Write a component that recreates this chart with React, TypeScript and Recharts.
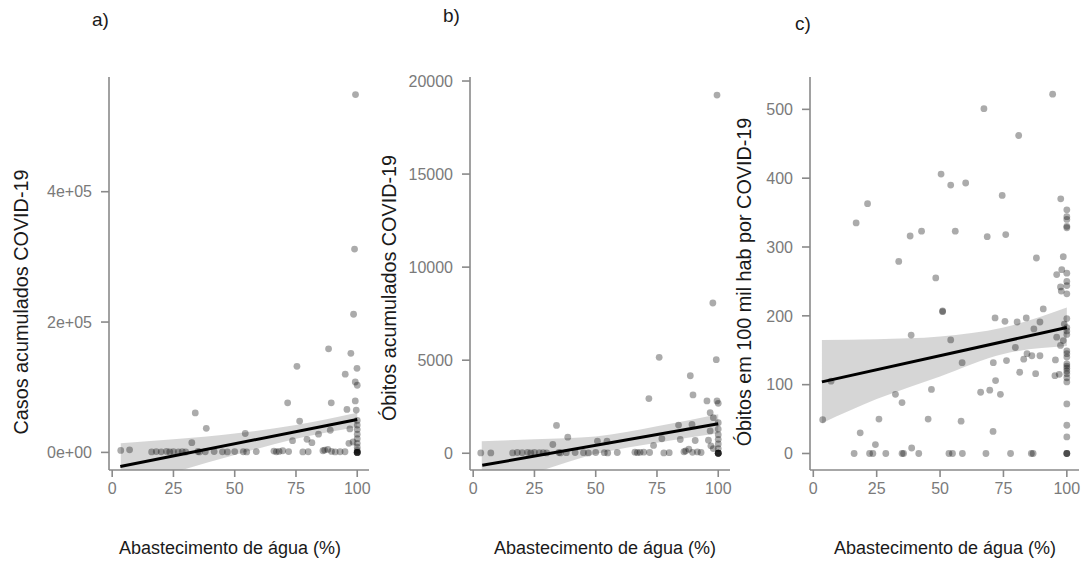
import { ComposedChart, Scatter, Area, Line, XAxis, YAxis } from 'recharts';

const FONT = '"Liberation Sans", Arial, sans-serif';

const xTicks = [0, 25, 50, 75, 100];
const xDomain = [-1.3, 104.8];
const xTitle = 'Abastecimento de água (%)';

// a) casos acumulados
const yTicksA = [0, 200000, 400000];
const yLabelsA = ['0e+00', '2e+05', '4e+05'];
const pointsA: [number, number][] = [
  [99.3, 549000], [98.9, 312000], [98.5, 212000], [88.3, 159000], [97.4, 152000], [99.9, 129000],
  [75.4, 132000], [95.1, 120000], [99.2, 108000], [100, 103000], [71.6, 76000], [89.4, 76000],
  [99.2, 79000], [99.6, 65000], [95.8, 66000], [33.9, 60500], [38.4, 37000], [76.5, 48000],
  [54.3, 29000], [32.5, 15000], [73.6, 18000], [79.5, 20000], [81.5, 15000], [84.2, 28000],
  [89, 34000], [97, 36000], [96.6, 14000], [98.3, 16000], [95, 1000], [100, 49000], [100, 42000],
  [100, 35000], [100, 28000], [100, 21000], [100, 14000], [100, 8000], [100, 3000], [3.5, 3000],
  [7.1, 4000], [16.1, 800], [18, 1200], [20, 900], [22.2, 1500], [23.5, 700], [25, 1300], [27, 900],
  [28.6, 1100], [30, 600], [35, 1400], [35.6, 800], [38, 1000], [41.6, 1200], [45, 900], [47, 700],
  [50, 1300], [53.5, 1000], [54.9, 800], [58.8, 1200], [66, 2000], [67, 900], [68.1, 1500],
  [69.6, 2500], [72, 1200], [77.8, 800], [80, 1000], [86, 2500], [86.7, 3500], [88, 4500],
  [89.5, 1500], [91, 800], [93, 1000], [100, 0], [100, 0], [100, 0], [100, 0], [100, 0],
];
const bandXA = [3.5, 25, 50, 75, 100];
const bandLoA = [-57000, -31000, -4000, 21000, 39000];
const bandHiA = [14000, 20000, 29000, 42000, 61000];
const fitA: [number, number][] = [[3.3, -21500], [100, 50500]];

// b) óbitos acumulados
const yTicksB = [0, 5000, 10000, 15000, 20000];
const yLabelsB = ['0', '5000', '10000', '15000', '20000'];
const pointsB: [number, number][] = [
  [99.5, 19245], [97.8, 8073], [75.9, 5154], [99.2, 5028], [88.6, 4163], [89.7, 3135], [71.7, 2937],
  [95.4, 2811], [99.5, 2811], [100, 2685], [96.7, 2180], [98, 1910], [100, 1640], [100, 1300],
  [100, 1000], [100, 750], [100, 500], [100, 250], [34, 1496], [38.6, 865], [83.8, 1514], [89.3, 1550],
  [77, 780], [84.5, 740], [90.6, 685], [32.5, 470], [73.6, 420], [50.7, 650], [54.6, 650], [96.7, 1200],
  [96, 700], [97, 400], [98, 250], [3.1, 20], [7.2, 20], [16.1, 20], [18, 40], [20, 30], [22.2, 50],
  [23.5, 20], [25, 40], [27, 30], [28.6, 30], [30, 20], [35, 40], [35.6, 20], [38, 30], [41.6, 40],
  [45, 30], [47, 20], [50, 40], [53.5, 30], [54.9, 20], [58.8, 40], [66, 60], [67, 30], [68.1, 50],
  [69.6, 60], [72, 40], [77.8, 20], [80, 30], [86, 80], [86.7, 120], [88, 216], [89.5, 50], [91.5, 70],
  [93, 40], [100, 0], [100, 0], [100, 0], [100, 0], [100, 0],
];
const bandXB = [3.5, 25, 50, 75, 100];
const bandLoB = [-1950, -1050, -40, 570, 1070];
const bandHiB = [650, 750, 900, 1450, 2100];
const fitB: [number, number][] = [[3.7, -650], [100, 1585]];

// c) óbitos por 100 mil hab
const yTicksC = [0, 100, 200, 300, 400, 500];
const yLabelsC = ['0', '100', '200', '300', '400', '500'];
const pointsC: [number, number][] = [
  [94.4, 522], [67.3, 501], [81, 462], [50.4, 406], [54.2, 390], [60.1, 393], [74.5, 375], [97.6, 370],
  [21.4, 363], [16.9, 335], [100, 354], [100, 344], [100, 340], [100, 330], [100, 328], [42.7, 323],
  [38.2, 316], [56, 323], [68.6, 315], [75.9, 318], [33.7, 279], [88, 284], [98.6, 286], [96, 260],
  [98, 267], [100, 262], [100, 250], [100, 244], [100, 232], [97.5, 242], [97.8, 236], [48.3, 255],
  [90.7, 210], [51, 207], [51, 206], [100, 196], [71.7, 197], [75.6, 192], [80.4, 191], [84, 197],
  [89.4, 191], [87, 181], [99, 188], [100, 183], [100, 178], [100, 173], [96, 169], [97.5, 157],
  [98.6, 164], [38.6, 172], [54.2, 165], [79.7, 154], [100, 149], [100, 145], [100, 140], [100, 130],
  [100, 127], [100, 124], [100, 120], [100, 116], [100, 110], [100, 104], [76.2, 135], [83, 137],
  [84.3, 145], [86.2, 142], [89.4, 142], [58.7, 132], [71, 132], [71.9, 106], [69.6, 92], [66, 89],
  [73.8, 86], [81.4, 118], [87.7, 116], [95.3, 113], [97, 115], [95.5, 136], [7, 105], [32.4, 86],
  [35, 74], [46.6, 93], [25.9, 50], [45.3, 50], [58.3, 47], [3.7, 49], [100, 72], [100, 41], [100, 24],
  [18.5, 30], [70.9, 32], [24.5, 13], [38.8, 8], [16.1, 0], [22.2, 0], [23.5, 0], [28.6, 0], [35, 0],
  [35.6, 0], [41.6, 0], [53.5, 0], [54.9, 0], [58.8, 0], [68.1, 0], [77.8, 0], [86, 0], [86.7, 0],
  [100, 0], [100, 0], [100, 0],
];
const bandXC = [3.4, 25, 50, 75, 100];
const bandLoC = [44, 79, 112, 144.5, 156];
const bandHiC = [165, 166, 170, 183, 212];
const fitC: [number, number][] = [[3.4, 104], [100, 183]];

const toRows = (pts: [number, number][]) => pts.map(([x, y]) => ({ x, y }));
const toBand = (xs: number[], lo: number[], hi: number[]) =>
  xs.map((x, i) => ({ x, band: [lo[i], hi[i]] }));

const Dot = (props: any) => (
  <circle cx={props.cx} cy={props.cy} r={3.4} fill="#000" fillOpacity={0.33} />
);

const axisStroke = '#8a8a8a';
const tickStyle = { fontSize: 16, fill: '#7a7a7a', fontFamily: FONT };

interface PanelProps {
  left: number;
  width: number;
  yWidth: number;
  right: number;
  points: [number, number][];
  band: { x: number; band: number[] }[];
  fit: [number, number][];
  yDomain: number[];
  yTicks: number[];
  yLabels: string[];
}

function Panel({ left, width, yWidth, right, points, band, fit, yDomain, yTicks, yLabels }: PanelProps) {
  return (
    <div style={{ position: 'absolute', left, top: 0 }}>
      <ComposedChart width={width} height={561} data={band} margin={{ top: 77, right, bottom: 61, left: 0 }}>
        <XAxis
          type="number"
          dataKey="x"
          domain={xDomain}
          ticks={xTicks}
          allowDataOverflow
          height={30}
          tick={tickStyle}
          tickSize={7}
          tickMargin={6}
          axisLine={{ stroke: axisStroke, strokeWidth: 1.6 }}
          tickLine={{ stroke: axisStroke, strokeWidth: 1.6 }}
        />
        <YAxis
          type="number"
          domain={yDomain}
          ticks={yTicks}
          allowDataOverflow
          width={yWidth}
          tick={tickStyle}
          tickSize={8}
          tickMargin={9}
          tickFormatter={(v: number) => yLabels[yTicks.indexOf(v)] ?? String(v)}
          axisLine={{ stroke: axisStroke, strokeWidth: 1.6 }}
          tickLine={{ stroke: axisStroke, strokeWidth: 1.6 }}
        />
        <Scatter data={toRows(points)} dataKey="y" shape={Dot} isAnimationActive={false} />
        <Area dataKey="band" type="monotone" fill="#999" fillOpacity={0.4} stroke="none" isAnimationActive={false} />
        <Line data={toRows(fit)} dataKey="y" stroke="#000" strokeWidth={3} dot={false} isAnimationActive={false} />
      </ComposedChart>
    </div>
  );
}

const textBase: React.CSSProperties = {
  position: 'absolute',
  fontFamily: FONT,
  color: '#1a1a1a',
  whiteSpace: 'nowrap',
  lineHeight: 1,
};

function Title({ x, y, text }: { x: number; y: number; text: string }) {
  return <div style={{ ...textBase, left: x, top: y, fontSize: 19 }}>{text}</div>;
}

function XTitle({ cx, text }: { cx: number; text: string }) {
  return (
    <div style={{ ...textBase, left: cx, top: 548, fontSize: 18, transform: 'translate(-50%, -50%)' }}>
      {text}
    </div>
  );
}

function YTitle({ cx, cy, text }: { cx: number; cy: number; text: string }) {
  return (
    <div style={{ ...textBase, left: cx, top: cy, fontSize: 19.8, transform: 'translate(-50%, -50%) rotate(-90deg)' }}>
      {text}
    </div>
  );
}

export default function App() {
  return (
    <div style={{ position: 'absolute', left: 0, top: 0, width: 1087, height: 561, background: '#fff', overflow: 'hidden' }}>
      <Panel
        left={0} width={380} yWidth={109} right={11}
        points={pointsA} band={toBand(bandXA, bandLoA, bandHiA)} fit={fitA}
        yDomain={[-27000, 576000]} yTicks={yTicksA} yLabels={yLabelsA}
      />
      <Panel
        left={370} width={370} yWidth={100} right={10}
        points={pointsB} band={toBand(bandXB, bandLoB, bandHiB)} fit={fitB}
        yDomain={[-900, 20216]} yTicks={yTicksB} yLabels={yLabelsB}
      />
      <Panel
        left={740} width={347} yWidth={70} right={8}
        points={pointsC} band={toBand(bandXC, bandLoC, bandHiC)} fit={fitC}
        yDomain={[-24, 547]} yTicks={yTicksC} yLabels={yLabelsC}
      />
      <Title x={92} y={10} text="a)" />
      <Title x={443} y={6} text="b)" />
      <Title x={795} y={14} text="c)" />
      <XTitle cx={230} text={xTitle} />
      <XTitle cx={605} text={xTitle} />
      <XTitle cx={945} text={xTitle} />
      <YTitle cx={22} cy={302} text="Casos acumulados COVID-19" />
      <YTitle cx={390} cy={288} text="Óbitos acumulados COVID-19" />
      <YTitle cx={745} cy={282} text="Óbitos em 100 mil hab por COVID-19" />
    </div>
  );
}
